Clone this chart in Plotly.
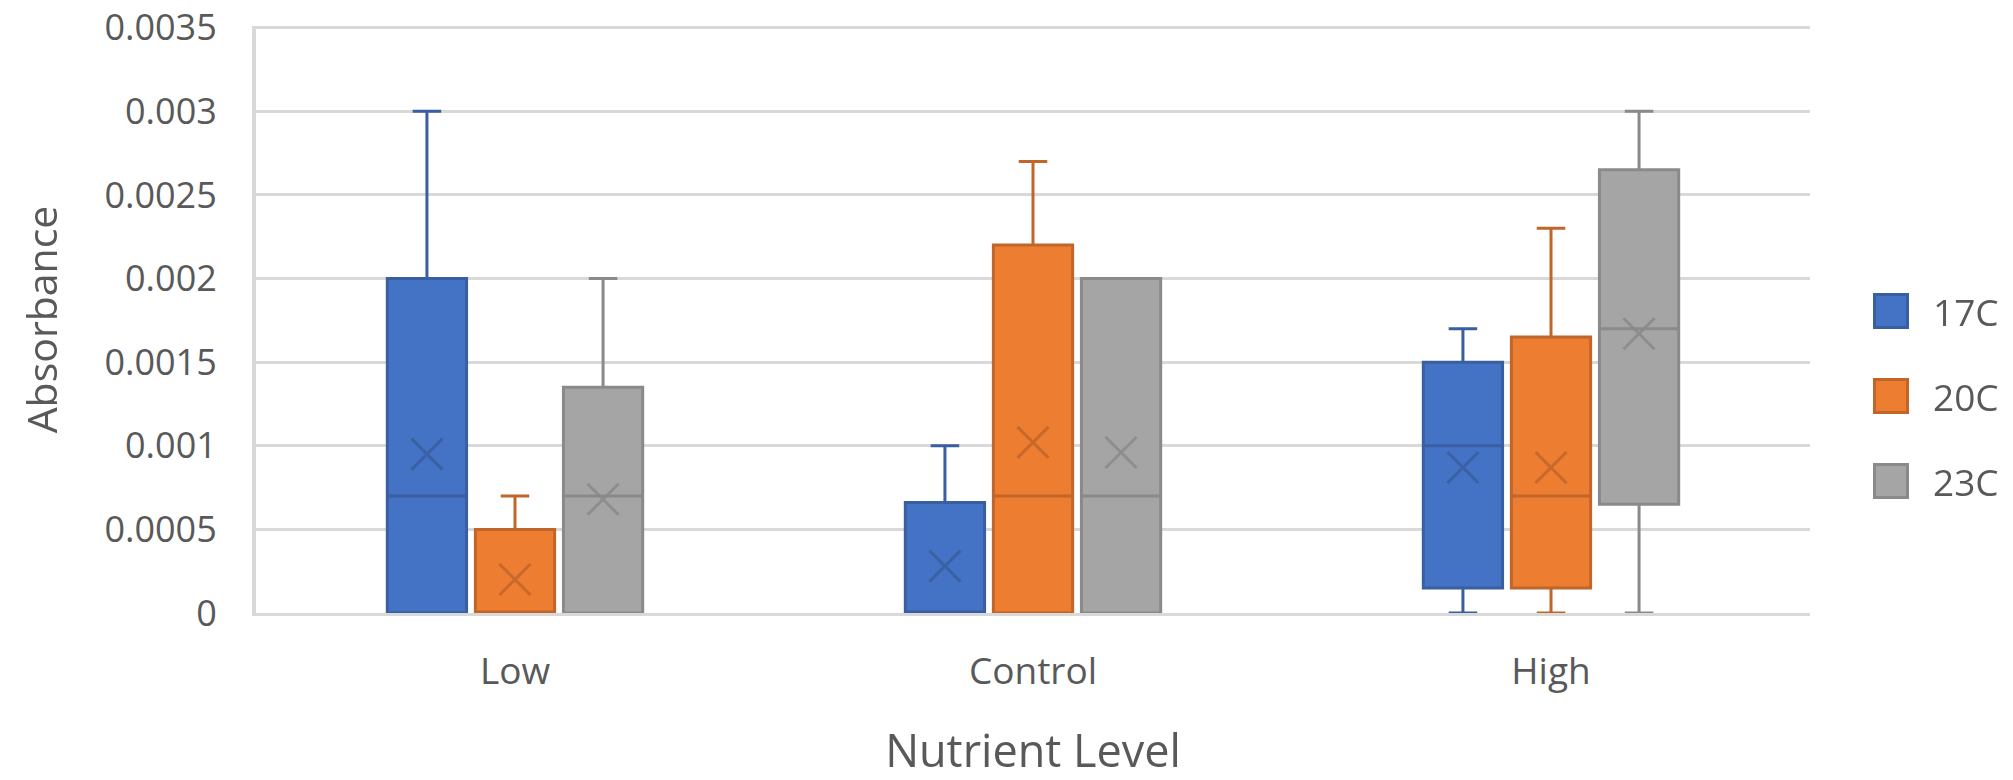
import plotly.graph_objects as go

# ---- data ----
categories = ["Low", "Control", "High"]
series_names = ["17C", "20C", "23C"]

lower_17 = [0.0, 0.0, 0.0]
q1_17 = [0.0, 0.0, 0.00015]
median_17 = [0.0007, 0.0, 0.001]
q3_17 = [0.002, 0.00066, 0.0015]
upper_17 = [0.003, 0.001, 0.0017]
mean_17 = [0.00095, 0.00028, 0.00087]

lower_20 = [0.0, 0.0, 0.0]
q1_20 = [0.0, 0.0, 0.00015]
median_20 = [0.0, 0.0007, 0.0007]
q3_20 = [0.0005, 0.0022, 0.00165]
upper_20 = [0.0007, 0.0027, 0.0023]
mean_20 = [0.0002, 0.00102, 0.00087]

lower_23 = [0.0, 0.0, 0.0]
q1_23 = [0.0, 0.0, 0.00065]
median_23 = [0.0007, 0.0007, 0.0017]
q3_23 = [0.00135, 0.002, 0.00265]
upper_23 = [0.002, 0.002, 0.003]
mean_23 = [0.00068, 0.00096, 0.00167]

y_ticks = [0, 0.0005, 0.001, 0.0015, 0.002, 0.0025, 0.003, 0.0035]
y_tick_text = ["0", "0.0005", "0.001", "0.0015", "0.002", "0.0025", "0.003", "0.0035"]

# ---- styles ----
fills = ["#4472C4", "#ED7D31", "#A5A5A5"]
lines = ["#3A5FA0", "#C0662A", "#8A8A8A"]
FONT = "Open Sans, Lato, DejaVu Sans, sans-serif"
TXT = "#595959"
GRID = "#D9D9D9"

# page has an 8px body margin, so the figure is 8px smaller than the window
PAD = 8
W, H = 2013 - PAD, 780 - PAD
ML, MR, MT, MB = 256 - PAD, 203, 26 - PAD, 167
BOXGAP = 0.49

stats = [
    (lower_17, q1_17, median_17, q3_17, upper_17, mean_17),
    (lower_20, q1_20, median_20, q3_20, upper_20, mean_20),
    (lower_23, q1_23, median_23, q3_23, upper_23, mean_23),
]

fig = go.Figure()
for i, name in enumerate(series_names):
    lo, q1, med, q3, up, mn = stats[i]
    fig.add_trace(go.Box(
        name=name, x=categories, q1=q1, median=med, q3=q3,
        lowerfence=lo, upperfence=up,
        offsetgroup=name, boxpoints=False,
        fillcolor=fills[i], line=dict(color=lines[i], width=3),
        whiskerwidth=0.36, showlegend=False,
    ))
for i, name in enumerate(series_names):
    mn = stats[i][5]
    fig.add_trace(go.Scatter(
        x=categories, y=mn, mode="markers", offsetgroup=name,
        marker=dict(symbol="x-thin", size=31, color=lines[i],
                    line=dict(color=lines[i], width=3)),
        opacity=0.85, showlegend=False, hoverinfo="skip",
    ))

# legend drawn as annotations (square + label)
plot_w = W - ML - MR
plot_h = H - MT - MB
plot_left_page = ML + PAD
plot_bottom_page = H - MB + PAD
annotations = []
for i, name in enumerate(series_names):
    cy = 311 + 85 * i
    py = (plot_bottom_page - cy) / plot_h
    annotations.append(dict(
        xref="paper", yref="paper", x=(1891 - plot_left_page) / plot_w, y=py,
        xanchor="center", yanchor="middle", text=" ", showarrow=False,
        width=30, height=30, bgcolor=fills[i], bordercolor=lines[i],
        borderwidth=3, borderpad=0, font=dict(size=10),
    ))
    annotations.append(dict(
        xref="paper", yref="paper", x=(1931 - plot_left_page) / plot_w, y=py,
        xanchor="left", yanchor="middle", text=name, showarrow=False,
        font=dict(family=FONT, size=37, color=TXT),
    ))

fig.update_layout(
    width=W, height=H,
    margin=dict(l=ML, r=MR, t=MT, b=MB),
    paper_bgcolor="white", plot_bgcolor="white",
    boxmode="group", boxgap=BOXGAP, boxgroupgap=0.1,
    scattermode="group", scattergap=BOXGAP,
    showlegend=False,
    font=dict(family=FONT, color=TXT),
    annotations=annotations,
)
fig.update_yaxes(
    range=[0, 0.00351], tickvals=y_ticks, ticktext=y_tick_text,
    automargin=False, ticklabeloverflow="allow",
    showgrid=True, gridcolor=GRID, gridwidth=3,
    showline=True, linecolor=GRID, linewidth=4,
    zeroline=False, ticks="", ticklabelstandoff=28,
    tickfont=dict(family=FONT, size=36, color=TXT),
    title=dict(text="Absorbance", font=dict(family=FONT, size=41, color=TXT), standoff=35),
)
fig.update_xaxes(
    type="category", categoryorder="array", categoryarray=categories,
    range=[-0.5, 2.5], automargin=False,
    showgrid=False, showline=True, linecolor=GRID, linewidth=3,
    ticks="", ticklabelstandoff=24,
    tickfont=dict(family=FONT, size=37, color=TXT),
    title=dict(text="Nutrient Level", font=dict(family=FONT, size=45, color=TXT), standoff=52),
)

fig.write_html("out.html")
